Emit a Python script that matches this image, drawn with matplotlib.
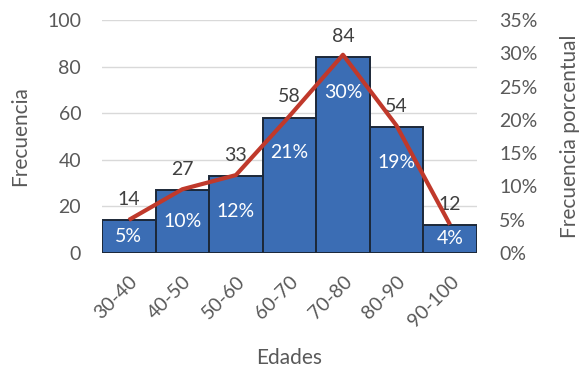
import matplotlib
matplotlib.use("Agg")
import matplotlib.pyplot as plt
from matplotlib.ticker import FuncFormatter

# Age-group frequencies
edades = ["30-40", "40-50", "50-60", "60-70", "70-80", "80-90", "90-100"]
frecuencia = [14, 27, 33, 58, 84, 54, 12]

total = sum(frecuencia)
porcentaje = [f / total for f in frecuencia]

plt.rcParams["font.family"] = ["Lato", "DejaVu Sans"]
text_gray = "#595959"
bar_blue = "#3b6db4"
line_red = "#c0392b"
fs_tick = 14
fs_label = 15

fig = plt.figure(figsize=(5.8, 3.72), dpi=100)
ax = fig.add_axes([0.176, 0.320, 0.646, 0.626])
ax2 = ax.twinx()

x = list(range(len(edades)))

ax.set_axisbelow(True)
ax.grid(axis="y", color="#d9d9d9", linewidth=1.0)
ax.bar(x, frecuencia, width=1.0, color=bar_blue, edgecolor="#1c2838",
       linewidth=1.4, zorder=2)
ax.set_xlim(-0.5, len(edades) - 0.5)
ax.set_ylim(0, 100)
ax.set_yticks(range(0, 101, 20))

ax2.plot(x, porcentaje, color=line_red, linewidth=3.0, zorder=3,
         solid_capstyle="butt")
ax2.set_ylim(0, 0.35)
ax2.set_yticks([i * 0.05 for i in range(8)])
ax2.yaxis.set_major_formatter(FuncFormatter(lambda v, p: f"{v * 100:.0f}%"))

for a in (ax, ax2):
    for s in a.spines.values():
        s.set_visible(False)
    a.tick_params(length=0, labelsize=fs_tick, labelcolor=text_gray)

ax.tick_params(axis="y", pad=15)
ax2.tick_params(axis="y", pad=16)

ax.set_xticks(x)
ax.set_xticklabels(edades, rotation=45, ha="right", va="top",
                   rotation_mode="anchor")
ax.tick_params(axis="x", pad=14)

# Count labels above each bar
for xi, f in zip(x, frecuencia):
    ax.annotate(str(f), (xi, f), xytext=(0, 9), textcoords="offset points",
                ha="center", va="bottom", fontsize=fs_tick, color="#404040",
                zorder=6)

# Percentage labels inside each bar
for xi, f, p in zip(x, frecuencia, porcentaje):
    y = max(f - 15, f / 2)
    ax.text(xi, y, f"{p * 100:.0f}%", ha="center", va="center",
            fontsize=fs_tick, color="white", zorder=6)

ax2.set_zorder(ax.get_zorder() + 1)
ax2.patch.set_visible(False)

ax.set_xlabel("Edades", fontsize=fs_label, color=text_gray, labelpad=13)
ax.set_ylabel("Frecuencia", fontsize=fs_label, color=text_gray, labelpad=12)
ax2.set_ylabel("Frecuencia porcentual", fontsize=fs_label, color=text_gray,
               labelpad=16)

fig.savefig("out.png", dpi=100)
